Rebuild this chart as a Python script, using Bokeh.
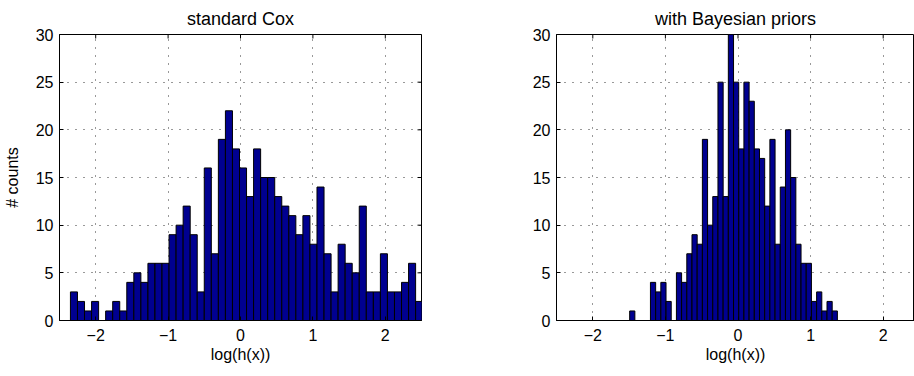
import numpy as np
from bokeh.plotting import figure
from bokeh.layouts import row
from bokeh.models import Range1d, FixedTicker
from bokeh.embed import file_html
from bokeh.resources import INLINE

# ---- data ----
cox_counts = [3, 2, 1, 2, 0, 1, 2, 1, 4, 5, 4, 6, 6, 6, 9, 10, 12, 9, 3, 16,
              7, 19, 22, 18, 16, 13, 18, 15, 15, 13, 12, 11, 9, 11, 8, 14, 7, 3, 8, 6,
              5, 12, 3, 3, 7, 3, 3, 4, 6, 2]
cox_lo, cox_hi = -2.349, 2.516

bayes_counts = [1, 0, 0, 0, 4, 3, 4, 2, 0, 5, 4, 7, 9, 8, 19, 10, 13, 25, 13, 30,
                25, 18, 25, 23, 18, 17, 12, 19, 8, 14, 20, 15, 8, 6, 6, 2, 3, 1, 2, 1]
bayes_lo, bayes_hi = -1.492, 1.369

x_ticks = [-2, -1, 0, 1, 2]
x_tick_labels = {-2: "\u22122", -1: "\u22121", 0: "0", 1: "1", 2: "2"}
y_ticks = [0, 5, 10, 15, 20, 25, 30]

titles = ["standard Cox", "with Bayesian priors"]
x_label = "log(h(x))"
y_label = "# counts"

FONT = "Liberation Sans"
BAR = "#000090"


def style_axis(ax, ticks, overrides=None):
    ax.ticker = FixedTicker(ticks=ticks)
    if overrides:
        ax.major_label_overrides = overrides
    ax.major_tick_in = 4
    ax.major_tick_out = 0
    ax.minor_tick_in = 0
    ax.minor_tick_out = 0
    ax.axis_line_color = "black"
    ax.major_tick_line_color = "black"
    ax.major_label_text_font = FONT
    ax.major_label_text_color = "black"
    ax.major_label_text_font_size = "16px"
    ax.axis_label_text_font = FONT
    ax.axis_label_text_font_size = "16px"
    ax.axis_label_text_font_style = "normal"
    ax.axis_label_text_color = "black"


def make(counts, lo, hi, title, width, mb_left, mb_right, x_end, ylab, mirror_right):
    x0, x1 = -2.5, x_end
    y1 = y_ticks[-1]
    p = figure(width=width, height=376, output_backend="svg", toolbar_location=None,
               min_border_left=mb_left, min_border_right=mb_right,
               min_border_top=32, min_border_bottom=56,
               x_range=Range1d(x0, x1), y_range=Range1d(0, y1))
    edges = np.linspace(lo, hi, len(counts) + 1)
    p.quad(left=edges[:-1], right=edges[1:], bottom=0, top=counts,
           fill_color=BAR, line_color="black", line_width=1)
    # mirrored inward ticks on the top (and right) edges of the box
    p.scatter(x=x_ticks, y=[y1] * len(x_ticks), marker="dash", angle=np.pi / 2,
              size=8, line_color="black", line_width=1)
    if mirror_right:
        p.scatter(x=[x1] * len(y_ticks), y=y_ticks, marker="dash",
                  size=8, line_color="black", line_width=1)
    p.title.text = title
    p.title.align = "center"
    p.title.text_font = FONT
    p.title.text_font_size = "18px"
    p.title.text_font_style = "normal"
    p.title.text_color = "black"
    p.title.standoff = 12
    style_axis(p.xaxis[0], x_ticks, x_tick_labels)
    style_axis(p.yaxis[0], y_ticks)
    p.xaxis[0].axis_label = x_label
    p.xaxis[0].major_label_standoff = 8
    p.xaxis[0].axis_label_standoff = 2
    p.yaxis[0].major_label_standoff = 6
    if ylab:
        p.yaxis[0].axis_label = ylab
        p.yaxis[0].axis_label_standoff = 12
    for g in (p.xgrid[0], p.ygrid[0]):
        g.grid_line_color = "#333333"
        g.grid_line_dash = "1 7"
        g.grid_line_width = 1
    p.xgrid[0].ticker = FixedTicker(ticks=x_ticks)
    p.ygrid[0].ticker = FixedTicker(ticks=y_ticks)
    p.outline_line_color = "black"
    p.outline_line_alpha = 1
    p.background_fill_color = "white"
    p.border_fill_color = "white"
    return p


p1 = make(cox_counts, cox_lo, cox_hi, titles[0], 471, 58, 50, 2.5, y_label, True)
p2 = make(bayes_counts, bayes_lo, bayes_hi, titles[1], 443, 85, 0, -2.5 + 358 / 72.6, None, False)

layout = row(p1, p2)
open("out.html", "w").write(file_html(layout, INLINE))
